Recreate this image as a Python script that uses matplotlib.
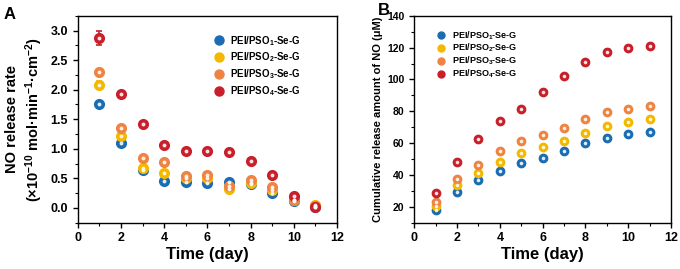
import numpy as np
from matplotlib import pyplot as plt
from matplotlib.ticker import MultipleLocator
from matplotlib.lines import Line2D

plt.rcParams['font.family'] = ['Liberation Sans', 'DejaVu Sans']
plt.rcParams['font.weight'] = 'bold'
plt.rcParams['mathtext.fontset'] = 'custom'
plt.rcParams['mathtext.rm'] = 'Liberation Sans:bold'
plt.rcParams['mathtext.bf'] = 'Liberation Sans:bold'
plt.rcParams['mathtext.it'] = 'Liberation Sans:bold'

days = np.arange(1, 12)
names = ['PEI/PSO$_1$-Se-G', 'PEI/PSO$_2$-Se-G', 'PEI/PSO$_3$-Se-G', 'PEI/PSO$_4$-Se-G']
colores = ['#1a6db3', '#f4b800', '#ee8444', '#c8202a']

# panel A: release rate
rate_1 = [1.75, 1.10, 0.65, 0.45, 0.44, 0.42, 0.44, 0.40, 0.25, 0.12, 0.02]
rate_2 = [2.08, 1.22, 0.68, 0.59, 0.50, 0.50, 0.32, 0.42, 0.30, 0.13, 0.05]
rate_3 = [2.30, 1.35, 0.84, 0.78, 0.54, 0.56, 0.37, 0.47, 0.36, 0.13, 0.04]
rate_4 = [2.88, 1.93, 1.42, 1.06, 0.96, 0.96, 0.95, 0.79, 0.56, 0.20, 0.02]
err_1 = [0.04, 0.03, 0.03, 0.02, 0.03, 0.03, 0.03, 0.02, 0.03, 0.02, 0.02]
err_2 = [0.07, 0.04, 0.03, 0.03, 0.04, 0.04, 0.05, 0.03, 0.03, 0.02, 0.02]
err_3 = [0.04, 0.04, 0.03, 0.03, 0.05, 0.05, 0.04, 0.04, 0.03, 0.02, 0.02]
err_4 = [0.12, 0.04, 0.04, 0.04, 0.04, 0.04, 0.04, 0.04, 0.04, 0.04, 0.03]

# panel B: cumulative release
cum_1 = [17.7, 29.2, 36.6, 42.2, 47.5, 50.9, 55.0, 59.9, 63.5, 65.7, 67.2]
cum_2 = [20.4, 33.8, 41.4, 48.1, 53.6, 57.5, 61.6, 66.6, 71.0, 73.3, 75.0]
cum_3 = [23.1, 37.2, 46.4, 54.8, 61.1, 64.9, 69.5, 75.0, 79.4, 81.7, 83.4]
cum_4 = [28.8, 48.3, 62.8, 74.2, 81.7, 91.8, 101.9, 110.7, 117.4, 119.9, 121.1]
cerr_4 = [1.0, 1.2, 1.2, 1.2, 1.2, 1.2, 1.2, 1.5, 1.5, 1.5, 1.5]

rates = [rate_1, rate_2, rate_3, rate_4]
errs = [err_1, err_2, err_3, err_4]
cums = [cum_1, cum_2, cum_3, cum_4]

fig = plt.figure(figsize=(6.8, 2.69), dpi=100)
axA = fig.add_axes([0.1143, 0.172, 0.3813, 0.7695])
axB = fig.add_axes([0.6093, 0.172, 0.3775, 0.7695])

for i in range(4):
    axA.errorbar(days, rates[i], yerr=errs[i], fmt='o', ms=7, color=colores[i],
                 ecolor=colores[i], elinewidth=1.2, capsize=2.5, capthick=1.2, zorder=3)
    axA.plot(days, rates[i], 'o', ms=1.8, color='white', alpha=0.8, zorder=4)

for i in range(4):
    if i == 3:
        axB.errorbar(days, cums[i], yerr=cerr_4, fmt='o', ms=6, color=colores[i],
                     elinewidth=1, capsize=2, zorder=3)
    else:
        axB.plot(days, cums[i], 'o', ms=6, color=colores[i], zorder=3)
    axB.plot(days, cums[i], 'o', ms=1.6, color='white', alpha=0.8, zorder=4)

handlesA = [Line2D([], [], ls='none', marker='o', ms=6.5, color=c) for c in colores]
handlesB = [Line2D([], [], ls='none', marker='o', ms=5, color=c) for c in colores]

axA.set_xlim(0, 12)
axA.set_ylim(-0.25, 3.25)
axA.xaxis.set_major_locator(MultipleLocator(2))
axA.xaxis.set_minor_locator(MultipleLocator(1))
axA.yaxis.set_major_locator(MultipleLocator(0.5))
axA.yaxis.set_minor_locator(MultipleLocator(0.25))
axA.set_xlabel('Time (day)', fontsize=12, fontweight='bold', labelpad=2)
axA.set_ylabel('NO release rate\n(×10$^{-10}$ mol·min$^{-1}$·cm$^{-2}$)',
               fontsize=10.5, fontweight='bold', labelpad=4, linespacing=1.3)
axA.legend(handlesA, names, loc='upper left', frameon=False, fontsize=7,
           handletextpad=0.5, handlelength=1.2,
           bbox_to_anchor=(0.49, 0.955), labelspacing=0.3)

axB.set_xlim(0, 12)
axB.set_ylim(10, 140)
axB.xaxis.set_major_locator(MultipleLocator(2))
axB.xaxis.set_minor_locator(MultipleLocator(1))
axB.yaxis.set_major_locator(MultipleLocator(20))
axB.yaxis.set_minor_locator(MultipleLocator(10))
axB.set_xlabel('Time (day)', fontsize=12, fontweight='bold', labelpad=2)
axB.set_ylabel('Cumulative release amount of NO (μM)', fontsize=8, fontweight='bold', labelpad=3)
axB.legend(handlesB, names, loc='upper left', frameon=False, fontsize=6.5,
           handletextpad=0.6, handlelength=1.2,
           bbox_to_anchor=(0.05, 0.975), labelspacing=0.05)

for ax in [axA, axB]:
    ax.tick_params(which='major', direction='out', length=3.5, width=1, labelsize=9)
    ax.tick_params(which='minor', direction='out', length=2, width=0.8)
    for s in ax.spines.values():
        s.set_linewidth(1)
    for lab in ax.get_xticklabels() + ax.get_yticklabels():
        lab.set_fontweight('bold')
axB.tick_params(axis='y', labelsize=7.5)

fig.text(0.005, 0.93, 'A', fontsize=12, fontweight='bold')
fig.text(0.556, 0.945, 'B', fontsize=12, fontweight='bold')

plt.savefig('out.png', dpi=100)
